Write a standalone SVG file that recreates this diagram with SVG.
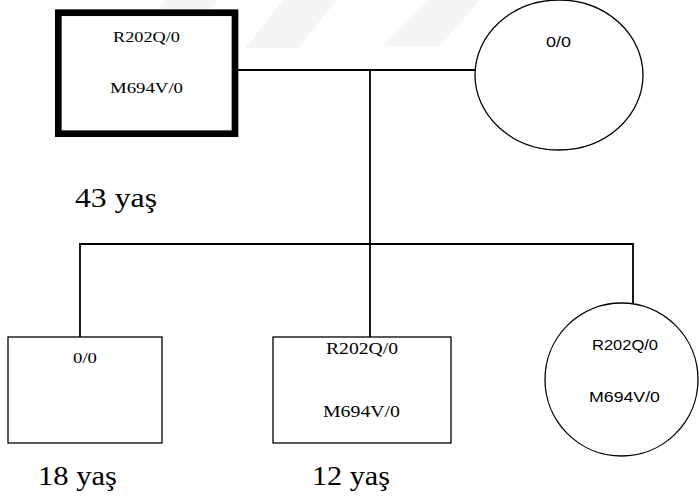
<svg xmlns="http://www.w3.org/2000/svg" width="699" height="499" viewBox="0 0 699 499">
  <defs>
    <style>
      .mark { fill: #f5f5f5; }
      .node { fill: #ffffff; stroke: #000000; stroke-width: 1.3; }
      .proband { fill: #ffffff; stroke: #000000; stroke-width: 6.7; }
      .link { fill: none; stroke: #000000; stroke-width: 1.8; }
      .tr { font-family: "Liberation Serif", "Times New Roman", Times, "DejaVu Serif", serif; fill: #000000; }
      .ar { font-family: "Liberation Sans", Arial, sans-serif; fill: #000000; }
    </style>
  </defs>

  <rect x="0" y="0" width="699" height="499" fill="#ffffff"/>

  <!-- faint background watermark stripes -->
  <g id="watermark">
    <polygon class="mark" points="158,9 210,9 218,0 166,0"/>
    <polygon class="mark" points="245,48 298,48 337,0 283,0"/>
    <polygon class="mark" points="382,46 440,46 480,0 427,0"/>
  </g>

  <!-- connectors -->
  <g id="connectors">
    <line class="link" x1="238" y1="70" x2="475" y2="70"/>
    <line class="link" x1="370" y1="70" x2="370" y2="337"/>
    <line class="link" x1="79" y1="244" x2="634" y2="244"/>
    <line class="link" x1="80" y1="243" x2="80" y2="337"/>
    <line class="link" x1="633" y1="243" x2="633" y2="303"/>
  </g>

  <!-- father (proband) -->
  <g id="father">
    <rect class="proband" x="58.3" y="12.7" width="176.7" height="121"/>
    <text class="tr" style="font-family: 'Liberation Serif', serif" font-size="15" x="113" y="42" textLength="67" lengthAdjust="spacingAndGlyphs">R202Q/0</text>
    <text class="tr" style="font-family: 'Liberation Serif', serif" font-size="15" x="110" y="93" textLength="73" lengthAdjust="spacingAndGlyphs">M694V/0</text>
    <text class="tr" style="font-family: 'Liberation Serif', serif" font-size="28" x="75" y="207" textLength="82" lengthAdjust="spacingAndGlyphs">43 yaş</text>
  </g>

  <!-- mother -->
  <g id="mother">
    <ellipse class="node" cx="559" cy="75" rx="84" ry="75"/>
    <text class="ar" font-size="15" x="546" y="47" textLength="25" lengthAdjust="spacingAndGlyphs">0/0</text>
  </g>

  <!-- first son -->
  <g id="son1">
    <rect class="node" x="8" y="337" width="154" height="106"/>
    <text class="tr" style="font-family: 'Liberation Serif', serif" font-size="15" x="73" y="363" textLength="24" lengthAdjust="spacingAndGlyphs">0/0</text>
    <text class="tr" style="font-family: 'Liberation Serif', serif" font-size="28" x="38" y="485" textLength="79" lengthAdjust="spacingAndGlyphs">18 yaş</text>
  </g>

  <!-- second son -->
  <g id="son2">
    <rect class="node" x="273" y="337" width="178" height="106"/>
    <text class="tr" style="font-family: 'Liberation Serif', serif" font-size="16" x="326" y="354" textLength="72" lengthAdjust="spacingAndGlyphs">R202Q/0</text>
    <text class="tr" style="font-family: 'Liberation Serif', serif" font-size="16" x="323" y="417" textLength="77" lengthAdjust="spacingAndGlyphs">M694V/0</text>
    <text class="tr" style="font-family: 'Liberation Serif', serif" font-size="28" x="312" y="485" textLength="78" lengthAdjust="spacingAndGlyphs">12 yaş</text>
  </g>

  <!-- daughter -->
  <g id="daughter">
    <circle class="node" cx="621.5" cy="379.5" r="76.5"/>
    <text class="ar" font-size="15" x="592" y="350" textLength="66" lengthAdjust="spacingAndGlyphs">R202Q/0</text>
    <text class="ar" font-size="15" x="589" y="402" textLength="71" lengthAdjust="spacingAndGlyphs">M694V/0</text>
  </g>
</svg>
